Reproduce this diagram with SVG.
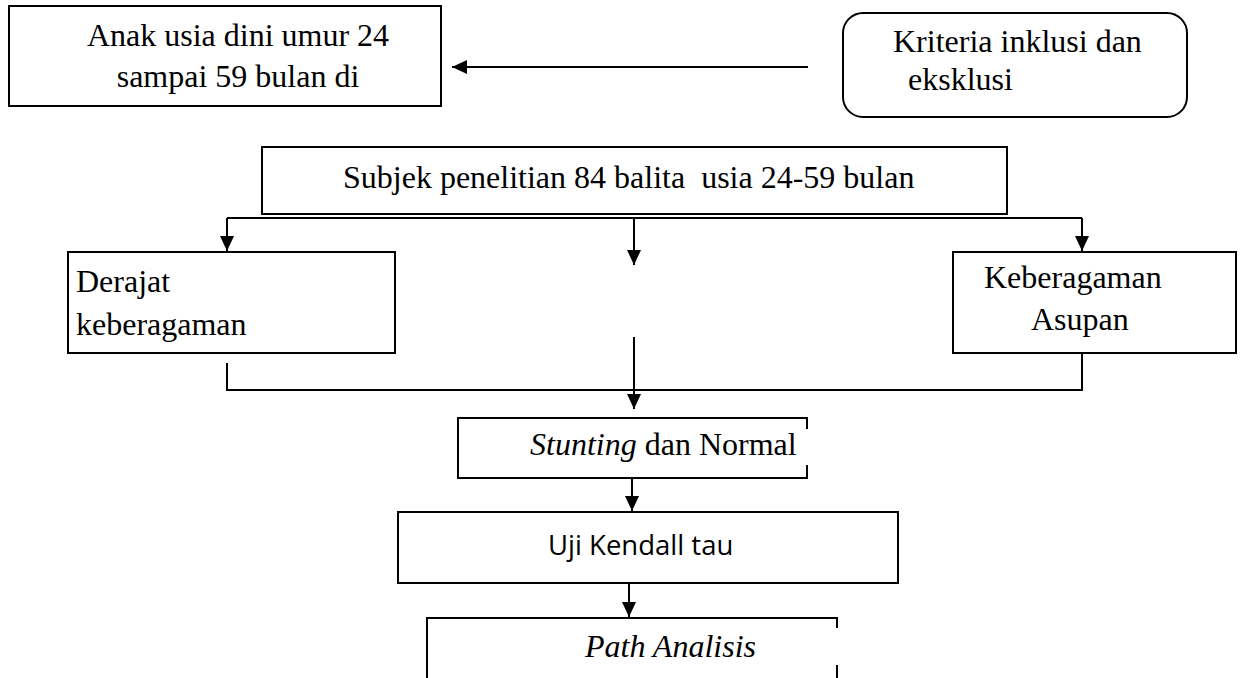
<svg xmlns="http://www.w3.org/2000/svg" width="1241" height="678" viewBox="0 0 1241 678">
<style>
.box{fill:#fff;stroke:#000;stroke-width:2}
.ln{fill:none;stroke:#000;stroke-width:2}
.t{font-family:"Liberation Serif","Times New Roman",serif;font-size:32px;fill:#000}
.i{font-style:italic}
.s{font-family:"Open Sans","Liberation Sans",sans-serif;font-size:27.5px;fill:#000}
</style>
<defs>
<marker id="ah" markerUnits="userSpaceOnUse" markerWidth="16" markerHeight="14" viewBox="0 0 16 14" refX="15" refY="7" orient="auto">
<path d="M0,0 L15,7 L0,14 z" fill="#000"/>
</marker>
</defs>
<rect width="1241" height="678" fill="#fff"/>
<g id="connectors">
<line class="ln" x1="808" y1="67" x2="452" y2="67" marker-end="url(#ah)"/>
<line class="ln" x1="227" y1="218" x2="1082" y2="218"/>
<line class="ln" x1="227" y1="218" x2="227" y2="251" marker-end="url(#ah)"/>
<line class="ln" x1="1082" y1="218" x2="1082" y2="251" marker-end="url(#ah)"/>
<line class="ln" x1="634" y1="219" x2="634" y2="265" marker-end="url(#ah)"/>
<line class="ln" x1="227" y1="363" x2="227" y2="391"/>
<line class="ln" x1="227" y1="390" x2="1083" y2="390"/>
<line class="ln" x1="1082" y1="353" x2="1082" y2="390"/>
<line class="ln" x1="634" y1="337" x2="634" y2="409" marker-end="url(#ah)"/>
<line class="ln" x1="632" y1="479" x2="632" y2="511" marker-end="url(#ah)"/>
<line class="ln" x1="629" y1="584" x2="629" y2="617" marker-end="url(#ah)"/>
</g>
<g id="node-anak">
<rect class="box" x="9" y="6" width="432" height="100"/>
<text class="t" x="238" y="46" text-anchor="middle">Anak usia dini umur 24</text>
<text class="t" x="238" y="87" text-anchor="middle">sampai 59 bulan di</text>
</g>
<g id="node-kriteria">
<rect class="box" x="843" y="13" width="344" height="104" rx="20" ry="20"/>
<text class="t" x="893" y="52">Kriteria inklusi dan</text>
<text class="t" x="908" y="90">eksklusi</text>
</g>
<g id="node-subjek">
<rect class="box" x="262" y="147" width="745" height="67"/>
<text class="t" x="343" y="188" xml:space="preserve">Subjek penelitian 84 balita  usia 24-59 bulan</text>
</g>
<g id="node-derajat">
<rect class="box" x="68" y="252" width="327" height="101"/>
<text class="t" x="76" y="292">Derajat</text>
<text class="t" x="76" y="335">keberagaman</text>
</g>
<g id="node-keberagaman">
<rect class="box" x="953" y="252" width="283" height="101"/>
<text class="t" x="984" y="288">Keberagaman</text>
<text class="t" x="1031" y="330">Asupan</text>
</g>
<g id="node-stunting">
<path class="ln" d="M807,429 V418 H458 V478 H807 V465"/>
<text class="t" x="530" y="455"><tspan class="i">Stunting</tspan> dan Normal</text>
</g>
<g id="node-uji">
<rect class="box" x="398" y="512" width="500" height="71"/>
<text class="s" x="548" y="555">Uji Kendall tau</text>
</g>
<g id="node-path">
<path class="ln" d="M427,680 V618 H837 V628 M837,665 V680"/>
<text class="t i" x="585" y="657">Path Analisis</text>
</g>
</svg>
